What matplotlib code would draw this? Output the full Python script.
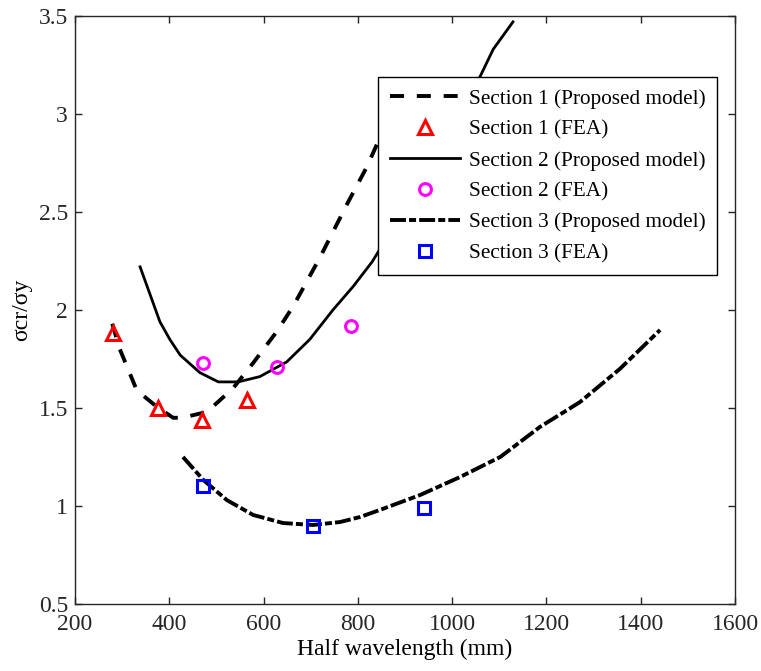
import numpy as np
import matplotlib.pyplot as plt

plt.rcParams['font.family'] = ['Liberation Serif', 'DejaVu Serif']

# Section 1 - proposed model (dashed)
s1_x = [279, 295, 331, 374, 408, 427, 480, 535, 578, 628, 663, 720, 777, 819, 845, 870]
s1_y = [1.93, 1.80, 1.59, 1.505, 1.45, 1.45, 1.48, 1.60, 1.73, 1.89, 2.02, 2.27, 2.54, 2.73, 2.87, 3.00]
# Section 2 - proposed model (solid)
s2_x = [338, 380, 401, 423, 465, 504, 546, 592, 649, 698, 747, 790, 830, 900, 950, 1000, 1059, 1087, 1129]
s2_y = [2.22, 1.94, 1.85, 1.77, 1.68, 1.633, 1.633, 1.66, 1.735, 1.85, 2.00, 2.12, 2.245, 2.52, 2.73, 2.94, 3.19, 3.33, 3.47]
# Section 3 - proposed model (dash-dot)
s3_x = [429, 472, 522, 578, 641, 705, 762, 805, 847, 932, 1017, 1102, 1186, 1271, 1356, 1441]
s3_y = [1.25, 1.133, 1.03, 0.954, 0.913, 0.903, 0.918, 0.944, 0.98, 1.056, 1.148, 1.25, 1.403, 1.53, 1.70, 1.898]

# FEA points
f1_x = [280, 376, 470, 564]
f1_y = [1.88, 1.50, 1.44, 1.54]
f2_x = [472, 629, 785]
f2_y = [1.73, 1.71, 1.92]
f3_x = [472, 705, 940]
f3_y = [1.10, 0.90, 0.99]

fig = plt.figure(figsize=(7.61, 6.71), dpi=100)
ax = fig.add_axes([0.0986, 0.0999, 0.8673, 0.8763])

ax.plot(s1_x, s1_y, color='black', lw=2.8, linestyle=(0, (3.6, 3.3)), label='Section 1 (Proposed model)')
ax.plot(f1_x, f1_y, linestyle='none', marker='^', ms=10, mfc='none', mec='red', mew=2.2, label='Section 1 (FEA)')
ax.plot(s2_x, s2_y, color='black', lw=2.0, label='Section 2 (Proposed model)')
ax.plot(f2_x, f2_y, linestyle='none', marker='o', ms=8.5, mfc='none', mec='magenta', mew=2.2, label='Section 2 (FEA)')
ax.plot(s3_x, s3_y, color='black', lw=2.8, linestyle=(0, (4.1, 0.8, 1.8, 0.8)), label='Section 3 (Proposed model)')
ax.plot(f3_x, f3_y, linestyle='none', marker='s', ms=8, mfc='none', mec='blue', mew=2.2, label='Section 3 (FEA)')

ax.set_xlim(200, 1600)
ax.set_ylim(0.5, 3.5)
ax.set_xticks(np.arange(200, 1601, 200))
ax.set_yticks([0.5, 1, 1.5, 2, 2.5, 3, 3.5])
ax.set_yticklabels(['0.5', '1', '1.5', '2', '2.5', '3', '3.5'])
ax.tick_params(direction='in', top=True, right=True, length=5, width=1, labelsize=17, colors='#262626')
ax.tick_params(axis='x', pad=7)
ax.tick_params(axis='y', pad=5)
for sp in ax.spines.values():
    sp.set_color('#262626')
    sp.set_linewidth(1)

ax.set_xlabel('Half wavelength (mm)', fontsize=17, labelpad=3)
ax.set_ylabel('σcr/σy', fontsize=17, labelpad=5)

leg = ax.legend(loc='upper right', bbox_to_anchor=(0.9727, 0.896), fontsize=15.3, frameon=True,
                fancybox=False, edgecolor='black', framealpha=1, handlelength=3.3,
                labelspacing=0.52, borderpad=0.55, handletextpad=0.4, borderaxespad=0)
leg.get_frame().set_linewidth(1)

fig.savefig('out.png', dpi=100)
